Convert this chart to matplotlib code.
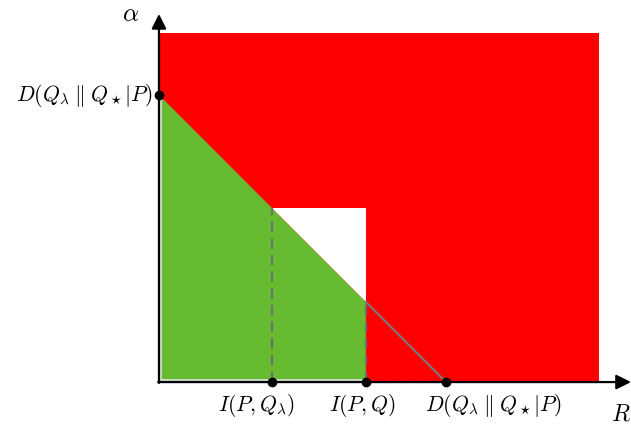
import matplotlib.pyplot as plt
from matplotlib.patches import Polygon

plt.rcParams['mathtext.fontset'] = 'cm'

# values (D normalised to 1)
I_lam = 0.394        # I(P, Q_lambda)
I_pq = 0.721         # I(P, Q)
D_val = 1.0          # D(Q_lambda || Q_star | P)
R_max = 1.533        # right edge of red region
A_max = 1.216        # top edge of red region
tick_pos = [I_lam, I_pq, D_val]
tick_labels = [r'$I(P,Q_\lambda)$', r'$I(P,Q)$', r'$D(Q_\lambda\;\|\;Q_\star|P)$']
label_x = [0.341, 0.707, 1.167]
y_label = r'$D(Q_\lambda\;\|\;Q_\star|P)$'

fig = plt.figure(figsize=(6.31, 4.27), dpi=100)
ax = fig.add_axes([0, 0, 1, 1])
ax.set_xlim(-0.554, 1.645)
ax.set_ylim(-0.153, 1.334)
ax.axis('off')

# red region
ax.add_patch(Polygon([(0, 0), (R_max, 0), (R_max, A_max), (0, A_max)],
                     closed=True, color='#ff0000', lw=0))
# green region below the line alpha = D - R, up to I(P,Q)
green = [(0, 0), (0, D_val), (I_pq, D_val - I_pq), (I_pq, 0)]
ax.add_patch(Polygon(green, closed=True, color='#67bb30', lw=0))
# light border on the left and bottom of the green area
ax.plot([0.007, 0.007, I_pq], [D_val - 0.007, 0.006, 0.006], color='#e0e0e0', lw=1.2)
# white notch
white = [(I_lam, D_val - I_lam), (I_pq, D_val - I_lam), (I_pq, D_val - I_pq)]
ax.add_patch(Polygon(white, closed=True, color='white', lw=0))

# dashed guides and remaining line segment
dash = dict(color='#6e6e6e', lw=1.5, ls=(0, (5, 3)))
ax.plot([I_lam, I_lam], [0, D_val - I_lam], **dash)
ax.plot([I_pq, I_pq], [0, D_val - I_pq], **dash)
ax.plot([I_pq, D_val], [0, 0], **dash)
ax.plot([I_pq, D_val], [D_val - I_pq, 0], color='#7a7a7a', lw=1.5)

# axes with arrows
arrow = dict(arrowstyle='-|>', color='black', lw=1.6, mutation_scale=22,
             shrinkA=0, shrinkB=0)
ax.annotate('', xy=(1.645, 0), xytext=(-0.003, 0), arrowprops=arrow)
ax.annotate('', xy=(0, 1.282), xytext=(0, -0.003), arrowprops=arrow)

# points
ax.plot(tick_pos, [0] * len(tick_pos), 'o', color='black', ms=6, zorder=5)
ax.plot([0], [D_val], 'o', color='black', ms=6, zorder=5)

for x, lab in zip(label_x, tick_labels):
    ax.text(x, -0.077, lab, ha='center', va='center', fontsize=15.5)
ax.text(-0.022, D_val, y_label, ha='right', va='center', fontsize=15.5)
ax.text(-0.098, 1.285, r'$\alpha$', ha='center', va='center', fontsize=18)
ax.text(1.61, -0.105, r'$R$', ha='center', va='center', fontsize=17)

fig.savefig('out.png', dpi=100)
